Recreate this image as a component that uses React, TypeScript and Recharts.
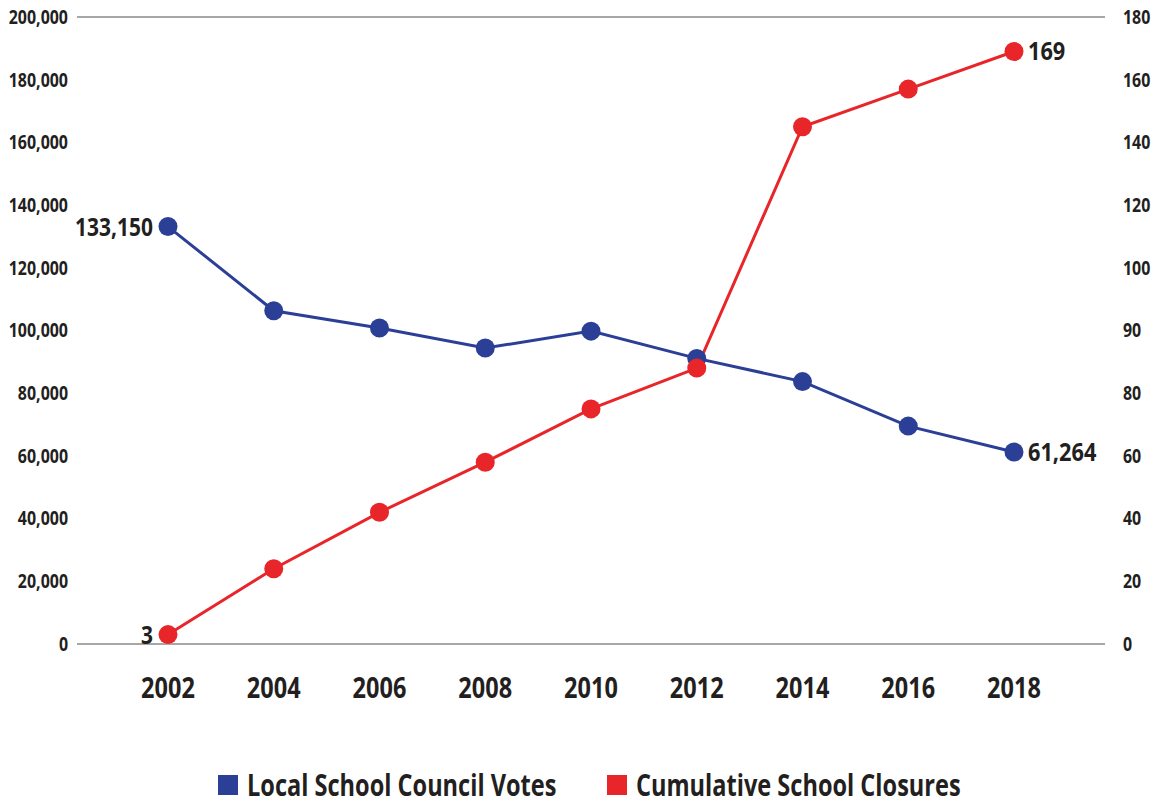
import { LineChart, Line, XAxis, YAxis, CartesianGrid, Legend, LabelList } from 'recharts';

// ─── Data ─────────────────────────────────────────────────────

const years = ['2002', '2004', '2006', '2008', '2010', '2012', '2014', '2016', '2018'];
const councilVotes = [133150, 106300, 100800, 94400, 99800, 91100, 83700, 69500, 61264];
const closures = [3, 24, 42, 58, 75, 84, 145, 157, 169];
const leftTicks = [0, 20000, 40000, 60000, 80000, 100000, 120000, 140000, 160000, 180000, 200000];
// the right axis in the source is labelled unevenly (…80, 90, 100…) on evenly spaced gridlines
const rightTicks = [0, 20, 40, 60, 80, 90, 100, 120, 140, 160, 180];

const data = years.map((y, i) => ({ year: y, votes: councilVotes[i], closures: closures[i] }));

const FONT = '"Open Sans", "DejaVu Sans", sans-serif';
const TEXT = '#231f20';
const BLUE = '#2b3f97';
const RED = '#e8262a';

const LEGEND = [
    { name: 'Local School Council Votes', color: BLUE, left: 218 },
    { name: 'Cumulative School Closures', color: RED, left: 607 },
];

// ─── Piecewise scale: each tick sits on its own evenly spaced gridline ──

// eslint-disable-next-line @typescript-eslint/no-explicit-any
function stopScale(stops: number[]): any {
    let dom: number[] = [stops[0], stops[stops.length - 1]];
    let rng: number[] = [0, 1];
    const frac = (v: number) => {
        let i = 0;
        while (i < stops.length - 2 && v > stops[i + 1]) i++;
        return (i + (v - stops[i]) / (stops[i + 1] - stops[i])) / (stops.length - 1);
    };
    // eslint-disable-next-line @typescript-eslint/no-explicit-any
    const s: any = (v: number) => rng[0] + frac(v) * (rng[1] - rng[0]);
    s.domain = (d?: number[]) => (d === undefined ? dom : ((dom = d), s));
    s.range = (r?: number[]) => (r === undefined ? rng : ((rng = r), s));
    s.copy = () => stopScale(stops).domain(dom).range(rng);
    s.ticks = () => stops;
    s.tickFormat = () => (v: number) => String(v);
    s.nice = () => s;
    s.clamp = () => s;
    return s;
}

// ─── Condensed bold text (horizontal squeeze around the anchor) ──

// eslint-disable-next-line @typescript-eslint/no-explicit-any
const CText = ({ x, y, anchor, size, squeeze = 0.84, children }: any) => (
    <text
        transform={`translate(${x} ${y}) scale(${squeeze} 1)`}
        textAnchor={anchor}
        dy="0.36em"
        style={{ fontFamily: FONT, fontWeight: 700, fontSize: size, fill: TEXT }}
    >
        {children}
    </text>
);

// eslint-disable-next-line @typescript-eslint/no-explicit-any
const LeftTick = (p: any) => (
    <CText x={p.x} y={p.y} anchor="end" size={19}>{Number(p.payload.value).toLocaleString('en-US')}</CText>
);
// eslint-disable-next-line @typescript-eslint/no-explicit-any
const RightTick = (p: any) => (
    <CText x={p.x} y={p.y} anchor="start" size={19}>{p.payload.value}</CText>
);
// eslint-disable-next-line @typescript-eslint/no-explicit-any
const YearTick = (p: any) => (
    <CText x={p.x} y={p.y + 14} anchor="middle" size={28}>{p.payload.value}</CText>
);

// first / last point only
// eslint-disable-next-line @typescript-eslint/no-explicit-any
const EndLabel = (props: any) => {
    const { x, y, index, value } = props;
    if (index !== 0 && index !== years.length - 1) return null;
    const first = index === 0;
    return (
        <CText x={first ? x - 15 : x + 14} y={y} anchor={first ? 'end' : 'start'} size={25} squeeze={first ? 0.84 : 0.87}>
            {Number(value).toLocaleString('en-US')}
        </CText>
    );
};

const LegendContent = () => (
    <div style={{ position: 'relative', width: 1155, height: 48 }}>
        {LEGEND.map((l) => (
            <div key={l.name} style={{ position: 'absolute', left: l.left, top: 11, height: 36, display: 'flex', alignItems: 'center' }}>
                <span style={{ width: 20, height: 20, background: l.color, display: 'inline-block', marginRight: 9 }} />
                <span style={{ display: 'inline-block', fontFamily: FONT, fontWeight: 700, fontSize: 30, lineHeight: '36px', color: TEXT, transform: 'scaleX(0.785)', transformOrigin: 'left center', whiteSpace: 'nowrap' }}>
                    {l.name}
                </span>
            </div>
        ))}
    </div>
);

export default function App() {
    return (
        <div style={{ position: 'absolute', left: 0, top: 0, width: 1155, height: 804, background: '#fff' }}>
            <LineChart width={1155} height={804} data={data} margin={{ top: 17, right: 0, left: 0, bottom: 0 }}>
                <CartesianGrid vertical={false} stroke="#8a8a8a" strokeWidth={1.5} />
                <XAxis
                    dataKey="year"
                    axisLine={false}
                    tickLine={false}
                    padding={{ left: 91, right: 91 }}
                    height={112}
                    tickMargin={24}
                    tick={<YearTick />}
                />
                <YAxis
                    yAxisId="left"
                    domain={[0, 200000]}
                    ticks={leftTicks}
                    width={77}
                    axisLine={false}
                    tickLine={false}
                    tickMargin={3}
                    tick={<LeftTick />}
                />
                <YAxis
                    yAxisId="right"
                    orientation="right"
                    type="number"
                    scale={stopScale(rightTicks)}
                    domain={[0, 180]}
                    ticks={rightTicks}
                    width={50}
                    axisLine={false}
                    tickLine={false}
                    tickMargin={12}
                    tick={<RightTick />}
                />
                <Legend verticalAlign="bottom" height={48} wrapperStyle={{ left: 0, width: 1155 }} content={<LegendContent />} />
                <Line
                    yAxisId="left"
                    dataKey="votes"
                    name="Local School Council Votes"
                    stroke={BLUE}
                    strokeWidth={3}
                    dot={{ r: 9.5, fill: BLUE, stroke: BLUE, strokeWidth: 0 }}
                    isAnimationActive={false}
                >
                    <LabelList dataKey="votes" content={<EndLabel />} />
                </Line>
                <Line
                    yAxisId="right"
                    dataKey="closures"
                    name="Cumulative School Closures"
                    stroke={RED}
                    strokeWidth={3}
                    dot={{ r: 9.5, fill: RED, stroke: RED, strokeWidth: 0 }}
                    isAnimationActive={false}
                >
                    <LabelList dataKey="closures" content={<EndLabel />} />
                </Line>
            </LineChart>
        </div>
    );
}
